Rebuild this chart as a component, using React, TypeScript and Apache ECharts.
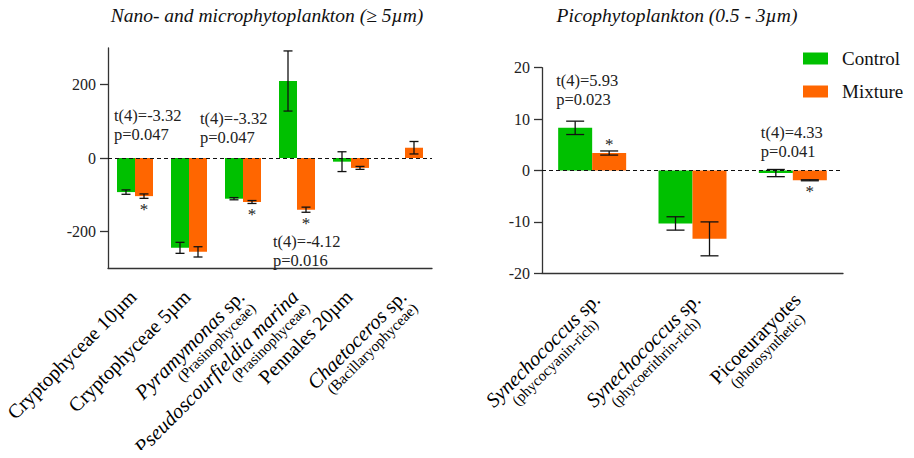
import React, { useEffect, useRef } from "react";
import * as echarts from "echarts";

const FONT = "'Liberation Serif', 'Times New Roman', serif";

// ---- Left panel data ----
const leftCategories = [
  "Cryptophyceae 10µm",
  "Cryptophyceae 5µm",
  "Pyramymonas sp.",
  "Pseudoscourfieldia marina",
  "Pennales 20µm",
  "Chaetoceros sp.",
];
const leftLabels = [
  "{n|Cryptophyceae 10µm}",
  "{n|Cryptophyceae 5µm}",
  "{i|Pyramymonas}{n| sp.}\n{s|(Prasinophyceae)}",
  "{i|Pseudoscourfieldia marina}\n{s|(Prasinophyceae)}",
  "{n|Pennales 20µm}",
  "{i|Chaetoceros}{n| sp.}\n{s|(Bacillaryophyceae)}",
];
const leftControl = [-93, -245, -111, 210, -10, 0];
const leftControlErr = [6, 15, 3, 82, 27, 0];
const leftMixture = [-104, -256, -120, -141, -27, 28];
const leftMixtureErr = [6, 14, 4, 7, 4, 17];
const leftStars = [1, 0, 1, 1, 0, 0];
const leftTicks = [-200, 0, 200];
const leftAnnotations = ["t(4)=-3.32\np=0.047", "t(4)=-3.32\np=0.047", "t(4)=-4.12\np=0.016"];

// ---- Right panel data ----
const rightCategories = [
  "Synechococcus sp. (phycocyanin-rich)",
  "Synechococcus sp. (phycoerithrin-rich)",
  "Picoeuraryotes (photosynthetic)",
];
const rightLabels = [
  "{i|Synechococcus}{n| sp.}\n{s|(phycocyanin-rich)}",
  "{i|Synechococcus}{n| sp.}\n{s|(phycoerithrin-rich)}",
  "{n|Picoeuraryotes}\n{s|(photosynthetic)}",
];
const rightControl = [8.3, -10.3, -0.5];
const rightControlErr = [1.3, 1.3, 0.7];
const rightMixture = [3.4, -13.3, -1.9];
const rightMixtureErr = [0.4, 3.3, 0.1];
const rightStars = [1, 0, 1];
const rightAnnotations = ["t(4)=5.93\np=0.023", "t(4)=4.33\np=0.041"];

// layout anchors for annotations: [categoryIndex, value, pixel dx]
const leftAnnotAnchors = [
  [0, 142, -21],
  [2, 135, -43],
  [3, -203, -24],
];
const rightAnnotAnchors = [
  [0, 19.4, -36],
  [2, 9.3, -32],
];

const GREEN = "#00C000";
const ORANGE = "#FF6600";

function errorSeries(
  gridIdx: number,
  means: number[],
  errs: number[],
  offset: number,
  cap: number,
  stars: number[] | null
) {
  return {
    type: "custom",
    xAxisIndex: gridIdx,
    yAxisIndex: gridIdx,
    silent: true,
    z: 5,
    data: means.map((m, i) => [i, m, errs[i], stars ? stars[i] : 0]),
    renderItem: (params: any, api: any) => {
      const cat = api.value(0);
      const mean = api.value(1);
      const err = api.value(2);
      const star = api.value(3);
      const children: any[] = [];
      const top = api.coord([cat, mean + err]);
      const bot = api.coord([cat, mean - err]);
      const x = top[0] + offset;
      if (err > 0) {
        const st = { stroke: "#111", lineWidth: 1.3 };
        children.push({ type: "line", shape: { x1: x, y1: top[1], x2: x, y2: bot[1] }, style: st });
        children.push({ type: "line", shape: { x1: x - cap / 2, y1: top[1], x2: x + cap / 2, y2: top[1] }, style: st });
        children.push({ type: "line", shape: { x1: x - cap / 2, y1: bot[1], x2: x + cap / 2, y2: bot[1] }, style: st });
      }
      if (star) {
        const below = mean < 0;
        const y = below ? bot[1] + 11 : top[1] - 6;
        children.push({
          type: "text",
          style: {
            text: "*",
            x,
            y,
            align: "center",
            verticalAlign: "middle",
            fontSize: 17,
            lineHeight: 4,
            fontFamily: FONT,
            fill: "#222",
          },
        });
      }
      return { type: "group", children };
    },
  };
}

function annotationSeries(gridIdx: number, anchors: number[][], texts: string[]) {
  return {
    type: "custom",
    xAxisIndex: gridIdx,
    yAxisIndex: gridIdx,
    silent: true,
    z: 6,
    data: anchors.map((a) => [a[0], a[1], a[2]]),
    renderItem: (params: any, api: any) => {
      const p = api.coord([api.value(0), api.value(1)]);
      return {
        type: "text",
        style: {
          text: texts[params.dataIndex],
          x: p[0] + api.value(2),
          y: p[1],
          align: "left",
          verticalAlign: "top",
          fontSize: 16.5,
          lineHeight: 19,
          fontFamily: FONT,
          fill: "#222",
        },
      };
    },
  };
}

function richStyles(lineAlign: string) {
  return {
    n: { fontSize: 20, fontFamily: FONT, color: "#000", lineHeight: 20, align: lineAlign },
    i: { fontSize: 20.5, fontFamily: FONT, fontStyle: "italic", color: "#000", lineHeight: 20, align: lineAlign },
    s: { fontSize: 15, fontFamily: FONT, color: "#000", lineHeight: 15, align: lineAlign },
  };
}

const axisLineStyle = { color: "#333", width: 1.3 };

export default function App() {
  const ref = useRef<HTMLDivElement>(null);
  useEffect(() => {
    if (!ref.current) return;
    const chart = echarts.init(ref.current, undefined, { renderer: "svg" });
    const zeroLine = {
      silent: true,
      symbol: ["none", "none"],
      label: { show: false },
      lineStyle: { type: [4, 3], color: "#111", width: 1.2 },
      data: [{ yAxis: 0 }],
    };
    const titleStyle = {
      fontSize: 19.5,
      fontStyle: "italic",
      fontWeight: "normal",
      fontFamily: FONT,
      color: "#111",
    };
    const option: any = {
      animation: false,
      backgroundColor: "#fff",
      textStyle: { fontFamily: FONT },
      title: [
        {
          text: "Nano- and microphytoplankton (≥ 5µm)",
          left: 267,
          top: 5,
          textAlign: "center",
          padding: 0,
          textStyle: titleStyle,
        },
        {
          text: "Picophytoplankton (0.5 - 3µm)",
          left: 677,
          top: 5,
          textAlign: "center",
          padding: 0,
          textStyle: titleStyle,
        },
      ],
      legend: {
        data: ["Control", "Mixture"],
        orient: "vertical",
        left: 803,
        top: 49,
        itemWidth: 25,
        itemHeight: 12,
        itemGap: 14,
        padding: 0,
        icon: "rect",
        selectedMode: false,
        textStyle: { fontSize: 19, fontFamily: FONT, color: "#111", padding: [0, 0, 0, 9] },
      },
      grid: [
        { left: 108, top: 48, width: 324, height: 220, outerBoundsMode: "none", containLabel: false },
        { left: 542, top: 67.7, width: 301, height: 205.6, outerBoundsMode: "none", containLabel: false },
      ],
      xAxis: [
        {
          type: "category",
          gridIndex: 0,
          data: leftCategories,
          axisLine: { onZero: false, lineStyle: axisLineStyle },
          axisTick: { alignWithLabel: true, length: 8, lineStyle: axisLineStyle },
          axisLabel: {
            rotate: 45,
            margin: 9,
            interval: 0,
            verticalAlign: "top",
            padding: [0, 13, 0, 0],
            formatter: (_v: string, idx: number) => leftLabels[idx],
            rich: richStyles("right"),
          },
        },
        {
          type: "category",
          gridIndex: 1,
          data: rightCategories,
          axisLine: { onZero: false, lineStyle: axisLineStyle },
          axisTick: { alignWithLabel: true, length: 8, lineStyle: axisLineStyle },
          axisLabel: {
            rotate: 45,
            margin: 13,
            interval: 0,
            verticalAlign: "top",
            padding: [0, 4, 0, 0],
            formatter: (_v: string, idx: number) => rightLabels[idx],
            rich: richStyles("center"),
          },
        },
      ],
      yAxis: [
        {
          type: "value",
          gridIndex: 0,
          min: -300,
          max: 300,
          interval: 100,
          splitLine: { show: false },
          axisLine: { show: true, lineStyle: axisLineStyle },
          axisTick: { show: true, length: 8, lineStyle: axisLineStyle, customValues: leftTicks },
          axisLabel: {
            customValues: leftTicks,
            margin: 12,
            fontSize: 16,
            fontFamily: FONT,
            color: "#222",
            formatter: (v: number) => (leftTicks.indexOf(v) >= 0 ? String(v) : ""),
          },
        },
        {
          type: "value",
          gridIndex: 1,
          min: -20,
          max: 20,
          interval: 10,
          splitLine: { show: false },
          axisLine: { show: true, lineStyle: axisLineStyle },
          axisTick: { show: true, length: 8, lineStyle: axisLineStyle },
          axisLabel: { margin: 12, fontSize: 16, fontFamily: FONT, color: "#222" },
        },
      ],
      series: [
        {
          name: "Control",
          type: "bar",
          xAxisIndex: 0,
          yAxisIndex: 0,
          data: leftControl,
          barWidth: 18,
          barGap: "0%",
          itemStyle: { color: GREEN },
          markLine: zeroLine,
        },
        {
          name: "Mixture",
          type: "bar",
          xAxisIndex: 0,
          yAxisIndex: 0,
          data: leftMixture,
          barWidth: 18,
          barGap: "0%",
          itemStyle: { color: ORANGE },
        },
        {
          name: "Control",
          type: "bar",
          xAxisIndex: 1,
          yAxisIndex: 1,
          data: rightControl,
          barWidth: 34,
          barGap: "0%",
          itemStyle: { color: GREEN },
          markLine: zeroLine,
        },
        {
          name: "Mixture",
          type: "bar",
          xAxisIndex: 1,
          yAxisIndex: 1,
          data: rightMixture,
          barWidth: 34,
          barGap: "0%",
          itemStyle: { color: ORANGE },
        },
        errorSeries(0, leftControl, leftControlErr, -9, 9, null),
        errorSeries(0, leftMixture, leftMixtureErr, 9, 9, leftStars),
        errorSeries(1, rightControl, rightControlErr, -17, 18, null),
        errorSeries(1, rightMixture, rightMixtureErr, 17, 18, rightStars),
        annotationSeries(0, leftAnnotAnchors, leftAnnotations),
        annotationSeries(1, rightAnnotAnchors, rightAnnotations),
      ],
    };
    chart.setOption(option);
    return () => chart.dispose();
  }, []);
  return <div ref={ref} style={{ width: 914, height: 458, margin: -8 }} />;
}
